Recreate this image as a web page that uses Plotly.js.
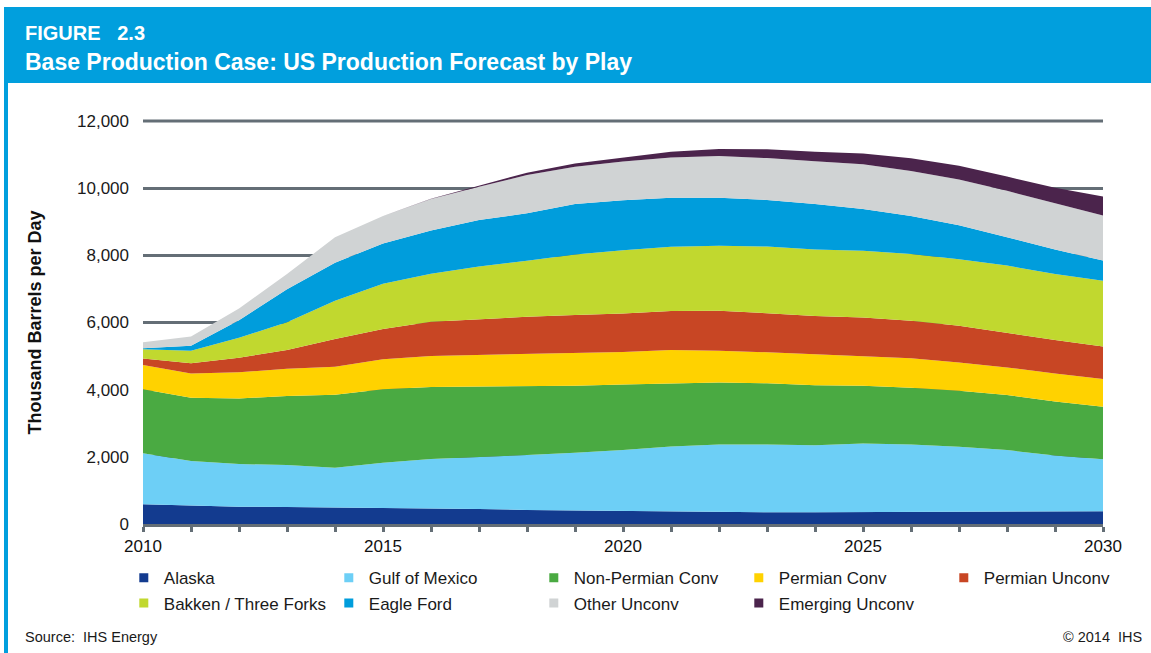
<!DOCTYPE html>
<html>
<head>
<meta charset="utf-8">
<script src="https://cdn.plot.ly/plotly-3.0.1.min.js"></script>
<style>
  html, body { margin: 0; padding: 0; background: #ffffff; }
  #chart { width: 1151px; height: 653px; }
</style>
</head>
<body>
<div id="chart"></div>
<script>
// ---- Data (thousand barrels per day) ----
const years = [2010,2011,2012,2013,2014,2015,2016,2017,2018,2019,2020,2021,2022,2023,2024,2025,2026,2027,2028,2029,2030];

const seriesNames = ["Alaska","Gulf of Mexico","Non-Permian Conv","Permian Conv","Permian Unconv","Bakken / Three Forks","Eagle Ford","Other Unconv","Emerging Unconv"];

const alaska       = [590,545,515,505,495,465,455,445,420,405,385,360,350,350,350,355,360,380,385,380,380];
const gulfOfMexico = [1515,1330,1270,1250,1180,1360,1480,1540,1635,1715,1815,1945,2015,2015,1995,2045,2005,1920,1815,1660,1550];
const nonPermian   = [1905,1885,1955,2055,2175,2185,2145,2105,2055,1995,1955,1885,1845,1825,1785,1715,1695,1665,1640,1605,1565];
const permianConv  = [725,725,775,815,835,895,925,945,970,985,970,990,950,925,930,895,875,845,820,840,825];
const permianUnconv= [190,300,435,555,825,900,1015,1070,1090,1120,1140,1160,1190,1160,1130,1140,1120,1090,1025,995,965];
const bakken       = [280,375,595,825,1140,1350,1430,1560,1670,1805,1885,1915,1935,1985,1985,1985,1985,1985,2010,1965,1955];
const eagleFord    = [30,150,525,985,1130,1200,1290,1390,1410,1500,1490,1460,1430,1390,1350,1245,1130,1010,845,725,605];
const otherUnconv  = [180,270,350,455,755,815,935,990,1140,1110,1155,1200,1240,1245,1280,1335,1340,1360,1380,1390,1340];
const emerging     = [0,0,0,0,0,0,10,30,70,100,120,170,210,265,280,320,380,410,425,450,565];

const seriesValues = [alaska, gulfOfMexico, nonPermian, permianConv, permianUnconv, bakken, eagleFord, otherUnconv, emerging];
const seriesColors = ["#133b8f","#6dcff6","#4aaa42","#ffd200","#c84624","#c1d82f","#009ddc","#d0d3d4","#4b244c"];

const traces = [];
seriesNames.forEach((name, i) => {
  traces.push({
    type: "scatter",
    mode: "lines",
    name: name,
    x: years,
    y: seriesValues[i],
    stackgroup: "one",
    fillcolor: seriesColors[i],
    line: { width: 0, color: seriesColors[i], shape: "linear" },
    showlegend: false,
    hoverinfo: "x+y+name"
  });
});
// legend entries with square markers
seriesNames.forEach((name, i) => {
  traces.push({
    type: "scatter",
    mode: "markers",
    name: name,
    x: [null],
    y: [null],
    marker: { symbol: "square", size: 9, color: seriesColors[i] },
    showlegend: true,
    hoverinfo: "skip"
  });
});

const gray = "#646e76";
const font = "Liberation Sans, Arial, sans-serif";
const yMax = 12000;

const layout = {
  width: 1151,
  height: 653,
  paper_bgcolor: "#ffffff",
  plot_bgcolor: "#ffffff",
  margin: { l: 143, r: 48, t: 121, b: 129, pad: 0 },
  font: { family: font, size: 16, color: "#1a1a1a" },
  title: {
    text: "<span style='font-size:20px'>FIGURE   2.3</span><br>Base Production Case: US Production Forecast by Play",
    font: { family: font, size: 23, color: "#ffffff", weight: "bold" },
    x: 25 / 1151, xref: "container", xanchor: "left",
    y: 1 - 40 / 653, yref: "container", yanchor: "top"
  },
  xaxis: {
    range: [2010, 2030],
    dtick: 5,
    tick0: 2010,
    ticks: "outside",
    ticklen: 5,
    tickwidth: 3,
    tickcolor: gray,
    minor: { dtick: 1, ticks: "outside", ticklen: 5, tickwidth: 3, tickcolor: gray },
    showline: true,
    linecolor: gray,
    linewidth: 3,
    showgrid: false,
    zeroline: false,
    tickfont: { family: font, size: 17, color: "#111111" },
    fixedrange: true
  },
  yaxis: {
    range: [0, yMax],
    dtick: 2000,
    tickformat: ",d",
    showgrid: true,
    gridcolor: gray,
    gridwidth: 3,
    zeroline: false,
    showline: false,
    ticks: "",
    ticklabelstandoff: 13,
    tickfont: { family: font, size: 17, color: "#1a1a1a" },
    title: {
      text: "Thousand Barrels per Day",
      font: { family: font, size: 18, color: "#111111", weight: "bold" },
      standoff: 30
    },
    automargin: false,
    fixedrange: true
  },
  legend: {
    orientation: "h",
    x: -0.02,
    xanchor: "left",
    y: -0.09,
    yanchor: "top",
    entrywidth: 160,
    entrywidthmode: "pixels",
    traceorder: "normal",
    font: { family: font, size: 17, color: "#1a1a1a" },
    bgcolor: "rgba(0,0,0,0)",
    itemclick: false,
    itemdoubleclick: false
  },
  shapes: [
    { type: "rect", xref: "paper", yref: "paper", layer: "below",
      x0: (4 - 143) / 960, x1: (1151 - 143) / 960,
      y0: (524 - 83) / 403, y1: (524 - 7) / 403,
      fillcolor: "#019fdd", line: { width: 0 } },
    { type: "rect", xref: "paper", yref: "paper", layer: "below",
      x0: (4 - 143) / 960, x1: (8 - 143) / 960,
      y0: (524 - 653) / 403, y1: (524 - 83) / 403,
      fillcolor: "#019fdd", line: { width: 0 } },
    // top gridline at the range maximum (Plotly omits the edge gridline)
    { type: "line", xref: "paper", yref: "paper", layer: "below",
      x0: 0, x1: 1, y0: 1, y1: 1,
      line: { color: gray, width: 3 } }
  ],
  annotations: [
    { text: "Source:  IHS Energy", xref: "paper", yref: "paper",
      x: (23 - 143) / 960, y: (524 - 637) / 403, xanchor: "left", yanchor: "middle",
      showarrow: false, font: { family: font, size: 14.5, color: "#1a1a1a" } },
    { text: "© 2014  IHS", xref: "paper", yref: "paper",
      x: (1144 - 143) / 960, y: (524 - 637) / 403, xanchor: "right", yanchor: "middle",
      showarrow: false, font: { family: font, size: 14.5, color: "#1a1a1a" } }
  ],
  showlegend: true,
  hovermode: "closest"
};

Plotly.newPlot("chart", traces, layout, { displayModeBar: false, staticPlot: false });
</script>
</body>
</html>
